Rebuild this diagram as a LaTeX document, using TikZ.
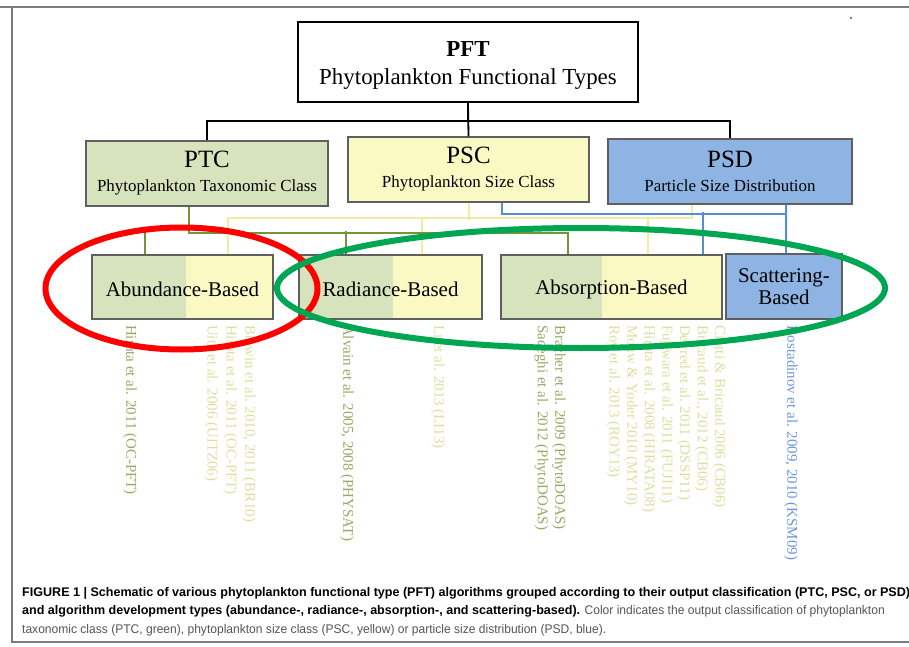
\documentclass[tikz,border=0pt]{standalone}
\usepackage{fontspec}
\setmainfont{Liberation Serif}
\newfontfamily\capfont[FakeStretch=0.96]{Liberation Sans}
\newfontfamily\capbold[FakeStretch=1.0]{Liberation Sans}
\usetikzlibrary{positioning, calc}

\definecolor{TaxFill}{RGB}{215,227,189}
\definecolor{SizeFill}{RGB}{250,249,196}
\definecolor{DistFill}{RGB}{142,180,227}
\definecolor{TaxLine}{RGB}{119,147,60}
\definecolor{SizeLine}{RGB}{240,236,160}
\definecolor{DistLine}{RGB}{85,142,213}
\definecolor{TaxText}{RGB}{150,170,100}
\definecolor{SizeText}{RGB}{222,222,160}
\definecolor{DistText}{RGB}{110,150,220}
\definecolor{BoxEdge}{RGB}{95,95,95}
\definecolor{FrameGray}{RGB}{125,125,125}
\definecolor{RingRed}{RGB}{255,0,0}
\definecolor{RingGreen}{RGB}{0,166,81}
\definecolor{CapGray}{RGB}{85,85,85}

\tikzstyle{classbox} = [draw=BoxEdge, line width=1.2bp, inner sep=0pt, align=center, minimum height=65bp, font=\fontsize{17}{24}\selectfont]
\tikzstyle{methodbox} = [draw=BoxEdge, line width=1.2bp, inner sep=0pt, align=center, minimum height=64bp, font=\fontsize{21}{22}\selectfont]
\tikzstyle{treeline} = [line width=1.8bp, black]
\tikzstyle{taxline} = [line width=2bp, TaxLine]
\tikzstyle{sizeline} = [line width=2bp, SizeLine]
\tikzstyle{distline} = [line width=2bp, DistLine]
\tikzstyle{reflist} = [rotate=-90, anchor=north west, align=left, inner sep=0pt, font=\fontsize{15}{17.7}\selectfont]
\tikzstyle{ring} = [line width=6bp]
\tikzset{halftax/.style={fill=SizeFill, path picture={\fill[TaxFill] (path picture bounding box.north west) rectangle ([xshift=#1]path picture bounding box.south west);}}}

\begin{document}
\begin{tikzpicture}[x=1bp, y=-1bp]
        \useasboundingbox (0,0) rectangle (909,647);

        % Frame
        \draw[FrameGray, line width=1.2bp] (0,7) -- (909,7);
        \draw[FrameGray, line width=1.2bp] (12,7) -- (12,642) -- (909,642);
        \fill[FrameGray] (850,17) rectangle (852,19);

        % Top
        \node[draw=black, line width=2bp, inner sep=0pt, align=center, minimum width=340bp, minimum height=80bp, font=\fontsize{23}{28.5}\selectfont] (pft) at (468,62) {\rule{0pt}{22bp}\textbf{PFT}\\Phytoplankton Functional Types};

        % Classes
        \node[classbox, fill=TaxFill, minimum width=242bp] (ptc) at (207,173.5) {{\fontsize{25}{25}\selectfont PTC}\\Phytoplankton Taxonomic Class};
        \node[classbox, fill=SizeFill, minimum width=241bp] (psc) at (468.5,169.5) {{\fontsize{25}{25}\selectfont PSC}\\Phytoplankton Size Class};
        \node[classbox, fill=DistFill, minimum width=244bp] (psd) at (730,171.5) {{\fontsize{25}{25}\selectfont PSD}\\Particle Size Distribution};

        \draw[treeline] (pft.south) -- ++(0,18) -| (ptc.north);
        \draw[treeline] (pft.south) -- ++(0,18) -| (psd.north);
        \draw[treeline] (pft.south) -- (psc.north);

        % Methods
        \node[methodbox, halftax=94bp, minimum width=181bp] (abund) at (182.5,287) {\rule{0pt}{19bp}Abundance-Based};
        \node[methodbox, halftax=94bp, minimum width=183bp] (radi) at (390.5,287) {\rule{0pt}{19bp}Radiance-Based};
        \node[methodbox, halftax=101bp, minimum width=221bp] (absorb) at (611.5,287) {\rule{0pt}{19bp}Absorption-Based};
        \node[methodbox, fill=DistFill, minimum width=116bp, minimum height=65bp] (scatter) at (784,286.5) {Scattering-\\Based};

        % PSC links
        \draw[sizeline] (psc.south) -- ++(0,17);
        \draw[sizeline] ([xshift=45.5bp]abund.north) -- ++(0,-36) -| ([xshift=-38bp]psd.south);
        \draw[sizeline] ([xshift=31.5bp]radi.north) -- ++(0,-36);
        \draw[sizeline] ([xshift=36.5bp]absorb.north) -- ++(0,-36);

        % PTC links
        \draw[taxline] ([xshift=-18bp]ptc.south) -- ++(0,26) -| ([xshift=-43.5bp]absorb.north);
        \draw[taxline] ([xshift=-37.5bp]abund.north) -- ++(0,-23);
        \draw[taxline] ([xshift=-44.5bp]radi.north) -- ++(0,-23);

        % PSD links
        \draw[distline] ([xshift=33.5bp]psc.south) -- ++(0,11) -| ([xshift=56bp]psd.south);
        \draw[distline] ([xshift=56bp]psd.south) -- ([xshift=2bp]scatter.north);
        \draw[distline] ([xshift=91.5bp]absorb.north) -- ++(0,-42);

        % References
        \node[reflist, text=TaxText] (refhirata) at (137,325) {Hirata et al. 2011 (OC-PFT)};
        \node[reflist, text=SizeText, font=\fontsize{15}{19}\selectfont] (refbrewin) at (256,325) {Brewin et al. 2010, 2011 (BR10)\\Hirata et al. 2011 (OC-PFT)\\Uitz et al. 2006 (UITZ06)};
        \node[reflist, text=TaxText] (refalvain) at (354,325) {Alvain et al. 2005, 2008 (PHYSAT)};
        \node[reflist, text=SizeText] (refli) at (445,325) {Li et al. 2013 (LI13)};
        \node[reflist, text=TaxText] (refbracher) at (566,325) {Bracher et al. 2009 (PhytoDOAS)\\Sadeghi et al. 2012 (PhytoDOAS)};
        \node[reflist, text=SizeText] (refciotti) at (726,325) {Ciotti \& Bricaud 2006 (CB06)\\Bricaud et al., 2012 (CB06)\\Devred et al. 2011 (DSSP11)\\Fujiwara et al. 2011 (FUJI11)\\Hirata et al. 2008 (HIRATA08)\\Mouw \& Yoder 2010 (MY10)\\Roy et al. 2013 (ROY13)};
        \node[reflist, text=DistText] (refkostadinov) at (798,325) {Kostadinov et al. 2009, 2010 (KSM09)};

        % Rings
        \draw[ring, RingRed] (181.5,288.5) ellipse [x radius=136, y radius=61];
        \draw[ring, RingGreen] (581,288) ellipse [x radius=304, y radius=60];

        % Caption
        \node[anchor=north west, inner sep=0pt, align=left, font=\capfont\fontsize{12.6}{18.6}\selectfont, text=CapGray] (caption) at (22,587) {\textcolor{black}{\capbold\bfseries FIGURE 1 | Schematic of various phytoplankton functional type (PFT) algorithms grouped according to their output classification (PTC, PSC, or PSD)}\\\textcolor{black}{\capbold\bfseries and algorithm development types (abundance-, radiance-, absorption-, and scattering-based).} Color indicates the output classification of phytoplankton\\taxonomic class (PTC, green), phytoplankton size class (PSC, yellow) or particle size distribution (PSD, blue).};

      \end{tikzpicture}
\end{document}
